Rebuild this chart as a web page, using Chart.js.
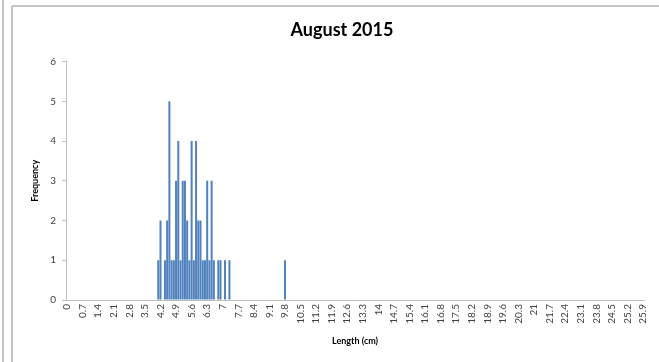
<!DOCTYPE html>
<html>
<head>
<meta charset="utf-8">
<script src="https://cdn.jsdelivr.net/npm/chart.js@4"></script>
<style>
  html, body { margin: 0; padding: 0; background: #fff; }
  #wrap { width: 659px; height: 362px; position: relative; }
</style>
</head>
<body>
<div id="wrap"><canvas id="lengthChart"></canvas></div>
<script>
// categories: 0 to 25.9 cm in 0.1 cm steps, label shown every 0.7
let firstLength = 0
let lastLength = 25.9
let labelEvery = 7

// lengths (cm) that had fish, and how many
let lengths = [4.1, 4.2, 4.4, 4.5, 4.6, 4.7, 4.8, 4.9, 5.0, 5.1, 5.2, 5.3, 5.4,
  5.5, 5.6, 5.7, 5.8, 5.9, 6.0, 6.1, 6.2, 6.3, 6.4, 6.5, 6.6, 6.8, 6.9, 7.1, 7.3, 9.8]
let counts = [1, 2, 1, 2, 5, 1, 1, 3, 4, 1, 3, 3, 2,
  1, 4, 1, 4, 2, 2, 1, 1, 3, 1, 3, 1, 1, 1, 1, 1, 1]

let categories = []
for (let k = Math.round(firstLength * 10); k <= Math.round(lastLength * 10); k++) {
  categories.push(String(Number((k / 10).toFixed(1))))
}
let frequency = categories.map(() => 0)
lengths.forEach((len, i) => {
  let idx = categories.indexOf(String(len))
  if (idx >= 0) frequency[idx] = counts[i]
})

// the grey frame lines of the original sheet
const frame = {
  id: 'frame',
  beforeDraw(chart) {
    let ctx = chart.ctx
    ctx.save()
    ctx.strokeStyle = '#c4c4c4'
    ctx.lineWidth = 2
    ctx.beginPath()
    ctx.moveTo(3, 0); ctx.lineTo(3, 362)
    ctx.moveTo(12, 6); ctx.lineTo(12, 362)
    ctx.moveTo(12, 6); ctx.lineTo(659, 6)
    ctx.stroke()
    ctx.restore()
  }
}

let ctx = document.getElementById('lengthChart').getContext('2d')
let barChart = new Chart(ctx, {
  type: 'bar',
  data: {
    labels: categories,
    datasets: [{
      label: 'Frequency',
      backgroundColor: '#4F81BD',
      data: frequency,
      categoryPercentage: 1.0,
      barPercentage: 0.9
    }]
  },
  options: {
    responsive: true,
    maintainAspectRatio: false,
    animation: false,
    layout: { padding: { left: 30, right: 5, top: 0, bottom: 14 } },
    plugins: {
      legend: { display: false },
      tooltip: { enabled: false },
      title: {
        display: true,
        text: 'August 2015',
        color: '#000',
        font: { family: 'Lato', size: 18, weight: 'bold' },
        padding: { top: 19, bottom: 21 }
      }
    },
    scales: {
      x: {
        offset: true,
        grid: { display: false, drawTicks: false },
        border: { color: '#bfbfbf', width: 1 },
        ticks: {
          autoSkip: false,
          maxRotation: 90,
          minRotation: 90,
          padding: 4,
          color: '#404040',
          font: { family: 'Lato', size: 10 },
          callback: function (value, index) {
            return index % labelEvery === 0 ? this.getLabelForValue(value) : ''
          }
        },
        title: {
          display: true,
          text: 'Length (cm)',
          color: '#000',
          font: { family: 'Lato', size: 9, weight: 'bold' },
          padding: { top: 0, bottom: 2 }
        },
        afterFit(scale) { scale.height = 48 }
      },
      y: {
        min: 0,
        max: 6,
        grid: { drawOnChartArea: false, drawTicks: true, tickLength: 4, color: '#bfbfbf' },
        border: { color: '#bfbfbf', width: 1 },
        ticks: {
          stepSize: 1,
          padding: 6,
          color: '#404040',
          font: { family: 'Lato', size: 10 }
        },
        title: {
          display: true,
          text: 'Frequency',
          color: '#000',
          font: { family: 'Lato', size: 9, weight: 'bold' },
          padding: { top: 0, bottom: 0 }
        },
        afterFit(scale) { scale.width = 36 }
      }
    }
  },
  plugins: [frame]
})
</script>
</body>
</html>
